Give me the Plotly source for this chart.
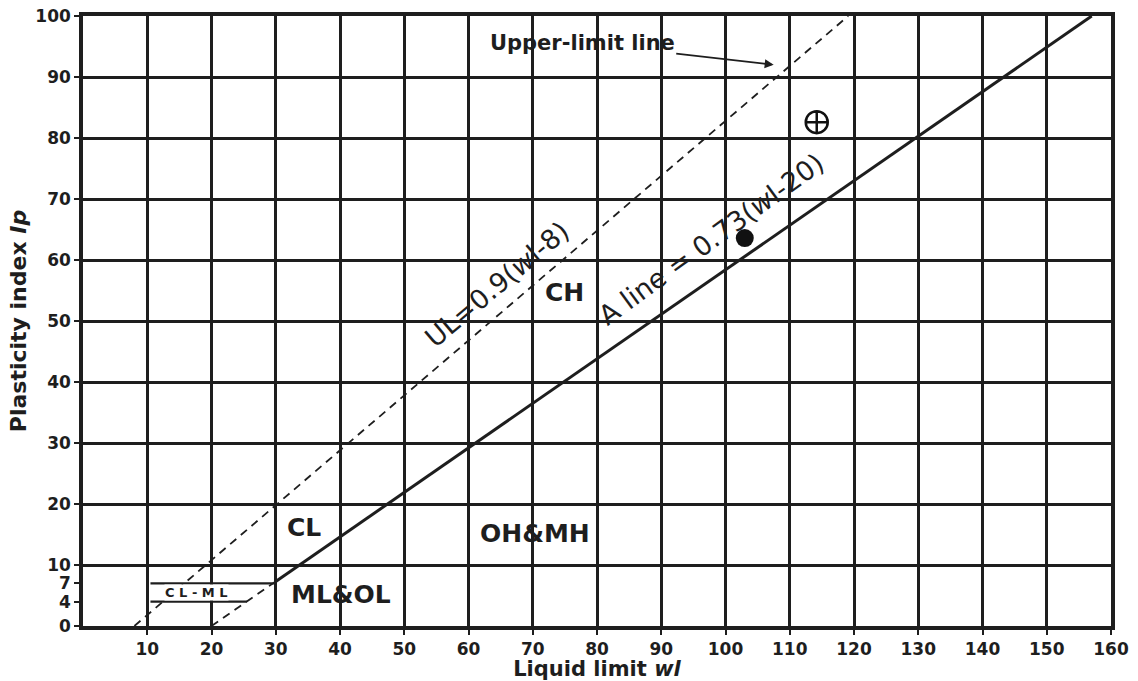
import plotly.graph_objects as go

# ---- data ----
x_ticks = [10, 20, 30, 40, 50, 60, 70, 80, 90, 100, 110, 120, 130, 140, 150, 160]
y_ticks = [0, 4, 7, 10, 20, 30, 40, 50, 60, 70, 80, 90, 100]

ul_wl = [8, 119.1]          # UL = 0.9(wl-8)
ul_ip = [0, 100]
a_wl = [30, 157]            # A line = 0.73(wl-20), solid part
a_ip = [7.3, 100]
a_ext_wl = [20, 30]         # dashed extension below Ip=7
a_ext_ip = [0, 7.3]
clml_top_wl = [10.5, 30]    # Ip = 7 boundary
clml_top_ip = [7, 7]
clml_bot_wl = [10.5, 25.5]  # Ip = 4 boundary
clml_bot_ip = [4, 4]

solid_pt_wl = [103]
solid_pt_ip = [63.6]
open_pt_wl = [114.2]
open_pt_ip = [82.6]

zone_labels = ["CH", "CL", "OH&MH", "ML&OL"]
zone_wl = [74.9, 34.4, 70.4, 40.2]
zone_ip = [54.6, 16.1, 15.2, 5.1]

INK = "#1e1e1e"
FONT = "DejaVu Sans"

fig = go.Figure()

fig.add_trace(go.Scatter(x=ul_wl, y=ul_ip, mode="lines",
                         line=dict(color=INK, width=1.8, dash="8px,6px"), hoverinfo="skip"))
fig.add_trace(go.Scatter(x=a_wl, y=a_ip, mode="lines",
                         line=dict(color=INK, width=3), hoverinfo="skip"))
fig.add_trace(go.Scatter(x=a_ext_wl, y=a_ext_ip, mode="lines",
                         line=dict(color=INK, width=1.8, dash="8px,6px"), hoverinfo="skip"))
fig.add_trace(go.Scatter(x=solid_pt_wl, y=solid_pt_ip, mode="markers",
                         marker=dict(symbol="circle", size=18, color="#111"), hoverinfo="skip"))
fig.add_trace(go.Scatter(x=open_pt_wl, y=open_pt_ip, mode="markers",
                         marker=dict(symbol="circle-cross-open", size=22, color="#111",
                                     line=dict(width=2.5, color="#111")), hoverinfo="skip"))

# zone labels
for t, xv, yv in zip(zone_labels, zone_wl, zone_ip):
    fig.add_annotation(x=xv, y=yv, text=t, showarrow=False,
                       font=dict(family=FONT, size=25, color=INK, weight="bold"))

fig.add_annotation(x=17.6, y=5.5, text="C L - M L", showarrow=False,
                   font=dict(family=FONT, size=13, color=INK, weight="bold"),
                   bgcolor="white", borderpad=0)

# CL-ML boundaries drawn above the label box
fig.add_trace(go.Scatter(x=clml_top_wl, y=clml_top_ip, mode="lines",
                         line=dict(color=INK, width=2.2), hoverinfo="skip"))
fig.add_trace(go.Scatter(x=clml_bot_wl, y=clml_bot_ip, mode="lines",
                         line=dict(color=INK, width=2.2), hoverinfo="skip"))

# line labels
fig.add_annotation(x=64.4, y=56.0, text="UL=0.9(<i>w</i>l-8)", showarrow=False,
                   textangle=-40, font=dict(family=FONT, size=27, color=INK))
fig.add_annotation(x=97.7, y=63.4, text="A line = 0.73(<i>w</i>l-20)", showarrow=False,
                   textangle=-36, font=dict(family=FONT, size=27, color=INK))

# upper-limit arrow
fig.add_annotation(x=107.5, y=92.0, ax=77.7, ay=95.6, axref="x", ayref="y",
                   text="Upper-limit line", showarrow=True, arrowhead=2,
                   arrowsize=1, arrowwidth=1.8, arrowcolor=INK,
                   font=dict(family=FONT, size=21, color=INK, weight="bold"))

axis_common = dict(showline=True, linecolor=INK, linewidth=3.5, mirror=True,
                   zeroline=False, ticks="outside", ticklen=5, tickcolor=INK, tickwidth=2,
                   automargin=False,
                   tickfont=dict(family=FONT, size=17, color=INK, weight="bold"))

fig.update_layout(
    width=1138, height=681,
    margin=dict(l=83, r=27, t=16, b=55),
    paper_bgcolor="white", plot_bgcolor="white",
    showlegend=False,
    xaxis=dict(range=[0, 160], tickmode="array", tickvals=x_ticks,
               showgrid=True, gridcolor=INK, gridwidth=2.5,
               title=dict(text="Liquid limit <i>wl</i>", standoff=9,
                          font=dict(family=FONT, size=21, color=INK, weight="bold")),
               **axis_common),
    yaxis=dict(range=[0, 100], tickmode="array", tickvals=y_ticks,
               showgrid=False,
               minor=dict(tickmode="linear", tick0=0, dtick=10, showgrid=True,
                          gridcolor=INK, gridwidth=2.5, ticks=""),
               title=dict(text="Plasticity index <i>Ip</i>", standoff=4,
                          font=dict(family=FONT, size=22, color=INK, weight="bold")),
               **axis_common),
)

fig.write_html("out.html")
